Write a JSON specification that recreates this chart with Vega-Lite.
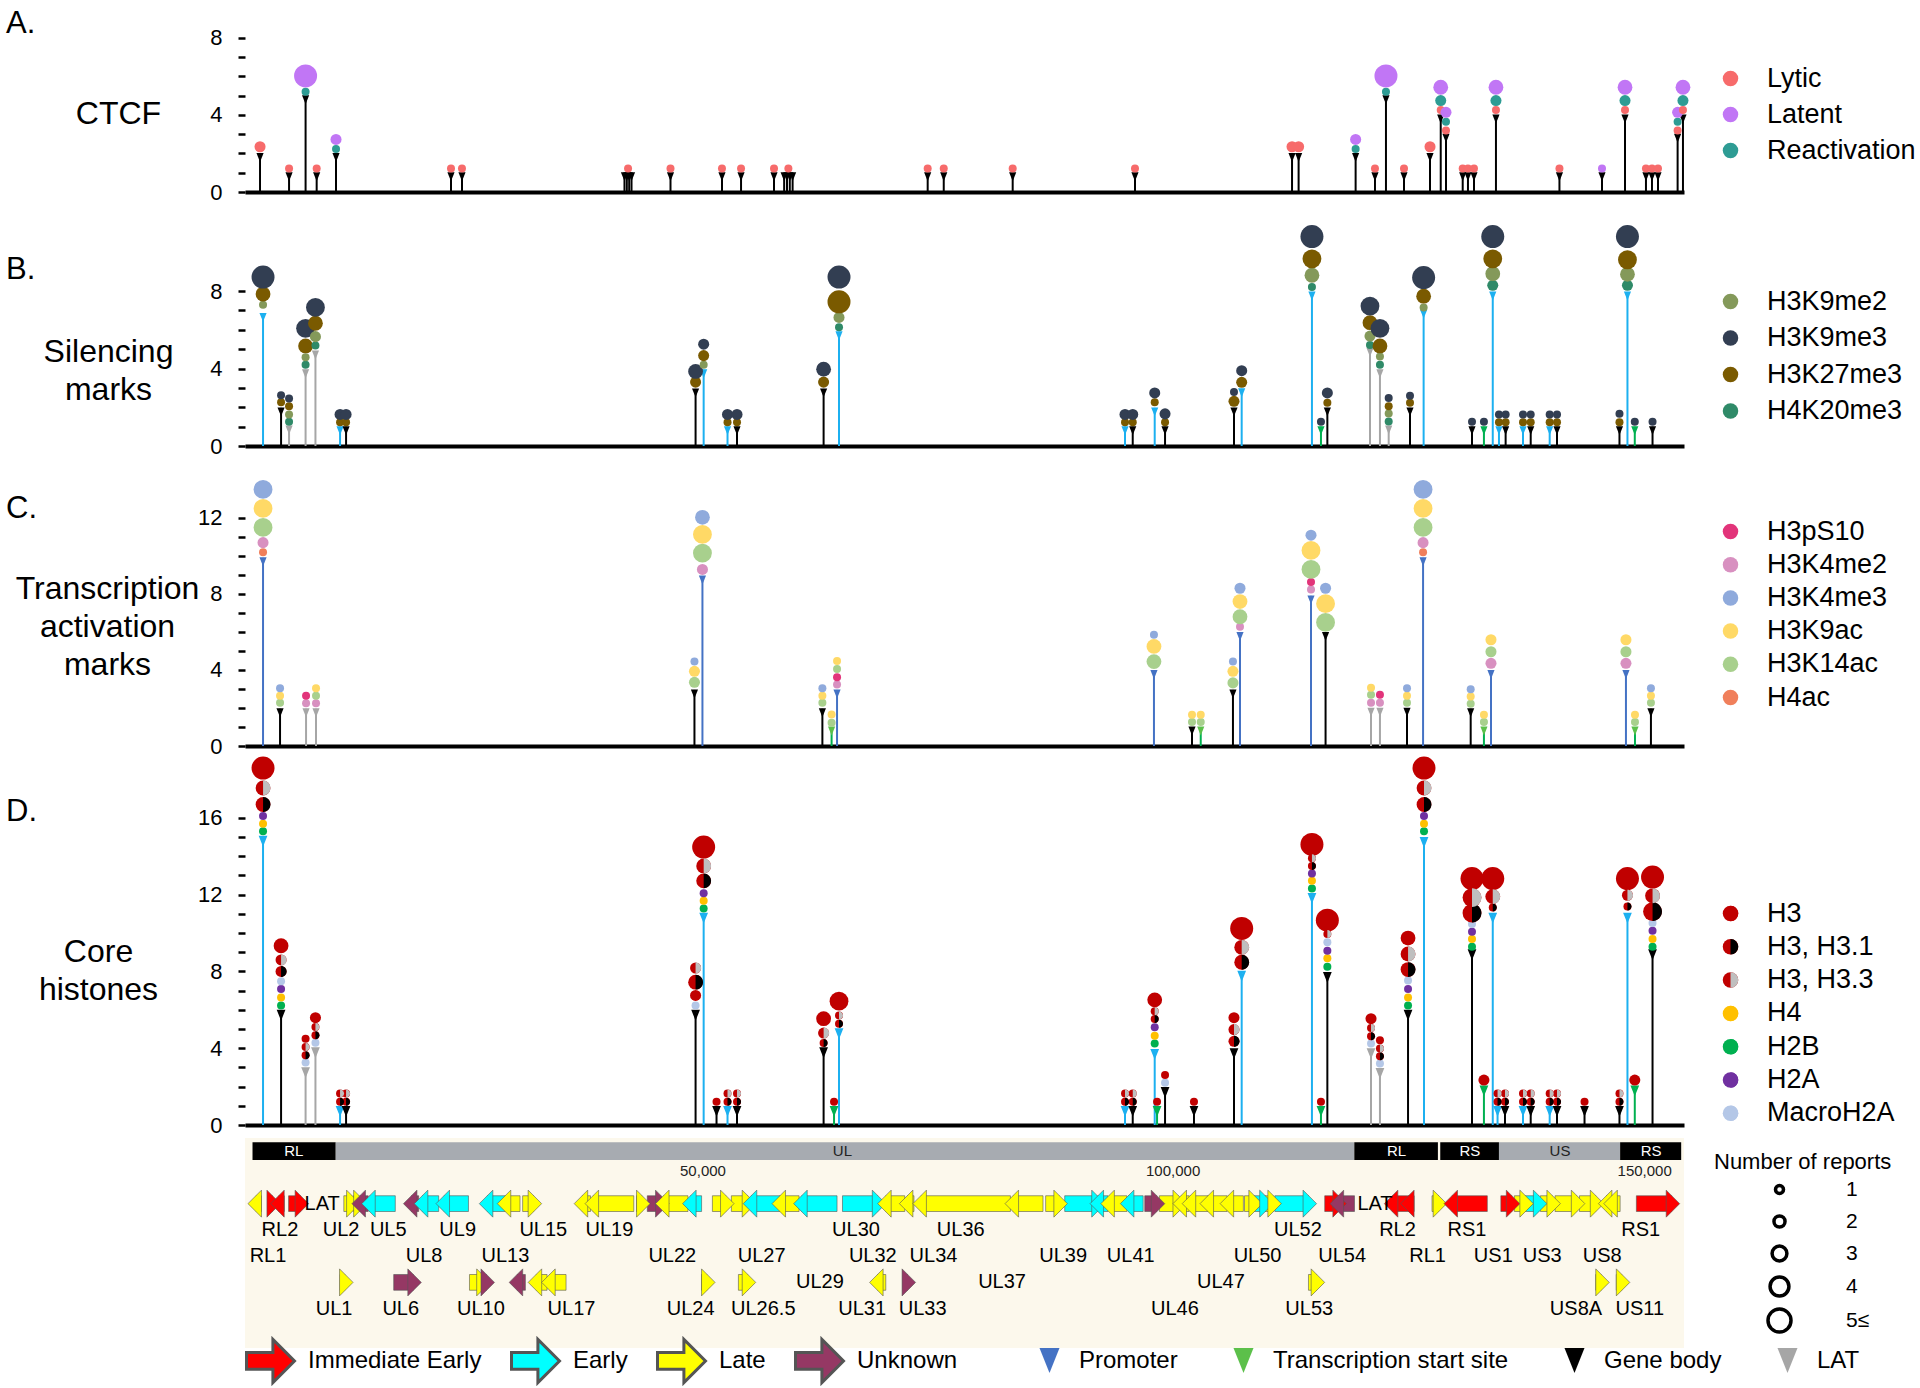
{
"$schema":"https://vega.github.io/schema/vega-lite/v6.json",
"background":"white",
"padding":{"left":6,"top":8,"right":5,"bottom":5},
"bounds":"flush",
"spacing":13,
"config":{"font":"Liberation Sans","view":{"stroke":null},"axis":{"grid":false},"legend":{"padding":0,"labelColor":"black","labelLimit":500,"titleColor":"black"}},
"resolve":{"scale":{"x":"independent","y":"independent","color":"independent","fill":"independent","stroke":"independent","size":"independent"},"legend":{"color":"independent","fill":"independent","stroke":"independent","size":"independent"}},
"datasets":{
"aStem":[{"x":0.8,"y":2,"t":"G"},{"x":3.89,"y":1,"t":"G"},{"x":5.65,"y":5,"t":"G"},{"x":6.83,"y":1,"t":"G"},{"x":8.89,"y":2,"t":"G"},{"x":21.13,"y":1,"t":"G"},{"x":22.3,"y":1,"t":"G"},{"x":39.6,"y":1,"t":"G"},{"x":39.85,"y":1,"t":"G"},{"x":40.1,"y":1,"t":"G"},{"x":40.35,"y":1,"t":"G"},{"x":44.5,"y":1,"t":"G"},{"x":49.98,"y":1,"t":"G"},{"x":52.01,"y":1,"t":"G"},{"x":55.52,"y":1,"t":"G"},{"x":56.6,"y":1,"t":"G"},{"x":56.9,"y":1,"t":"G"},{"x":57.2,"y":1,"t":"G"},{"x":57.5,"y":1,"t":"G"},{"x":71.88,"y":1,"t":"G"},{"x":73.59,"y":1,"t":"G"},{"x":80.93,"y":1,"t":"G"},{"x":93.95,"y":1,"t":"G"},{"x":110.67,"y":2,"t":"G"},{"x":111.37,"y":2,"t":"G"},{"x":117.44,"y":2,"t":"G"},{"x":119.5,"y":1,"t":"G"},{"x":120.67,"y":5,"t":"G"},{"x":122.59,"y":1,"t":"G"},{"x":125.36,"y":2,"t":"G"},{"x":126.5,"y":4,"t":"G"},{"x":127.06,"y":3,"t":"G"},{"x":128.84,"y":1,"t":"G"},{"x":129.4,"y":1,"t":"G"},{"x":130.04,"y":1,"t":"G"},{"x":132.38,"y":4,"t":"G"},{"x":139.14,"y":1,"t":"G"},{"x":143.67,"y":1,"t":"G"},{"x":146.12,"y":4,"t":"G"},{"x":148.35,"y":1,"t":"G"},{"x":148.99,"y":1,"t":"G"},{"x":149.63,"y":1,"t":"G"},{"x":151.72,"y":3,"t":"G"},{"x":152.29,"y":4,"t":"G"}],
"aDot":[{"x":0.8,"y":2.35,"m":"Lytic","n":2},{"x":3.89,"y":1.22,"m":"Lytic","n":1},{"x":5.65,"y":5.2,"m":"Reactivation","n":1},{"x":5.65,"y":6.03,"m":"Latent","n":5},{"x":6.83,"y":1.22,"m":"Lytic","n":1},{"x":8.89,"y":2.23,"m":"Reactivation","n":1},{"x":8.89,"y":2.73,"m":"Latent","n":2},{"x":21.13,"y":1.22,"m":"Lytic","n":1},{"x":22.3,"y":1.22,"m":"Lytic","n":1},{"x":39.98,"y":1.22,"m":"Lytic","n":1},{"x":44.5,"y":1.22,"m":"Lytic","n":1},{"x":49.98,"y":1.22,"m":"Lytic","n":1},{"x":52.01,"y":1.22,"m":"Lytic","n":1},{"x":55.52,"y":1.22,"m":"Lytic","n":1},{"x":57.05,"y":1.22,"m":"Lytic","n":1},{"x":71.88,"y":1.22,"m":"Lytic","n":1},{"x":73.59,"y":1.22,"m":"Lytic","n":1},{"x":80.93,"y":1.22,"m":"Lytic","n":1},{"x":93.95,"y":1.22,"m":"Lytic","n":1},{"x":110.67,"y":2.35,"m":"Lytic","n":2},{"x":111.37,"y":2.35,"m":"Lytic","n":2},{"x":117.44,"y":2.23,"m":"Reactivation","n":1},{"x":117.44,"y":2.73,"m":"Latent","n":2},{"x":119.5,"y":1.22,"m":"Lytic","n":1},{"x":120.67,"y":5.2,"m":"Reactivation","n":1},{"x":120.67,"y":6.03,"m":"Latent","n":5},{"x":122.59,"y":1.22,"m":"Lytic","n":1},{"x":125.36,"y":2.35,"m":"Lytic","n":2},{"x":126.5,"y":4.26,"m":"Lytic","n":1},{"x":126.5,"y":4.75,"m":"Reactivation","n":2},{"x":126.5,"y":5.44,"m":"Latent","n":3},{"x":127.06,"y":3.2,"m":"Lytic","n":1},{"x":127.06,"y":3.65,"m":"Reactivation","n":1},{"x":127.06,"y":4.14,"m":"Latent","n":2},{"x":128.84,"y":1.22,"m":"Lytic","n":1},{"x":129.4,"y":1.22,"m":"Lytic","n":1},{"x":130.04,"y":1.22,"m":"Lytic","n":1},{"x":132.38,"y":4.26,"m":"Lytic","n":1},{"x":132.38,"y":4.75,"m":"Reactivation","n":2},{"x":132.38,"y":5.44,"m":"Latent","n":3},{"x":139.14,"y":1.22,"m":"Lytic","n":1},{"x":143.67,"y":1.22,"m":"Latent","n":1},{"x":146.12,"y":4.26,"m":"Lytic","n":1},{"x":146.12,"y":4.75,"m":"Reactivation","n":2},{"x":146.12,"y":5.44,"m":"Latent","n":3},{"x":148.35,"y":1.22,"m":"Lytic","n":1},{"x":148.99,"y":1.22,"m":"Lytic","n":1},{"x":149.63,"y":1.22,"m":"Lytic","n":1},{"x":151.72,"y":3.2,"m":"Lytic","n":1},{"x":151.72,"y":3.65,"m":"Reactivation","n":1},{"x":151.72,"y":4.14,"m":"Latent","n":2},{"x":152.29,"y":4.26,"m":"Lytic","n":1},{"x":152.29,"y":4.75,"m":"Reactivation","n":2},{"x":152.29,"y":5.44,"m":"Latent","n":3}],
"bStem":[{"x":1.12,"y":6.85,"t":"P"},{"x":3.04,"y":1.97,"t":"G"},{"x":3.89,"y":1.03,"t":"L"},{"x":5.65,"y":3.94,"t":"L"},{"x":6.7,"y":4.91,"t":"L"},{"x":9.32,"y":1,"t":"P"},{"x":9.96,"y":1,"t":"G"},{"x":47.17,"y":2.95,"t":"G"},{"x":48.03,"y":3.94,"t":"P"},{"x":50.57,"y":1,"t":"P"},{"x":51.58,"y":1,"t":"G"},{"x":60.8,"y":2.95,"t":"G"},{"x":62.44,"y":5.9,"t":"P"},{"x":92.89,"y":1,"t":"P"},{"x":93.71,"y":1,"t":"G"},{"x":96.05,"y":1.97,"t":"P"},{"x":97.15,"y":1,"t":"G"},{"x":104.49,"y":1.97,"t":"G"},{"x":105.31,"y":2.96,"t":"P"},{"x":112.79,"y":7.96,"t":"P"},{"x":113.75,"y":1,"t":"T"},{"x":114.43,"y":1.97,"t":"G"},{"x":118.97,"y":5.05,"t":"L"},{"x":120.03,"y":3.94,"t":"L"},{"x":120.96,"y":1.03,"t":"L"},{"x":123.23,"y":1.97,"t":"G"},{"x":124.68,"y":7.02,"t":"P"},{"x":129.83,"y":1,"t":"G"},{"x":131.1,"y":1,"t":"T"},{"x":132.04,"y":7.96,"t":"P"},{"x":132.7,"y":1,"t":"P"},{"x":133.41,"y":1,"t":"G"},{"x":135.26,"y":1,"t":"P"},{"x":136.08,"y":1,"t":"G"},{"x":138.1,"y":1,"t":"P"},{"x":138.88,"y":1,"t":"G"},{"x":145.53,"y":1,"t":"G"},{"x":146.38,"y":7.96,"t":"P"},{"x":147.16,"y":1,"t":"T"},{"x":149.05,"y":1,"t":"G"}],
"bDot":[{"x":1.12,"y":7.3,"m":"H3K9me2","n":1},{"x":1.12,"y":7.85,"m":"H3K27me3","n":3},{"x":1.12,"y":8.73,"m":"H3K9me3","n":5},
{"x":3.04,"y":2.26,"m":"H3K27me3","n":1},{"x":3.04,"y":2.62,"m":"H3K9me3","n":1},
{"x":3.89,"y":1.25,"m":"H4K20me3","n":1},{"x":3.89,"y":1.63,"m":"H3K9me2","n":1},{"x":3.89,"y":2.05,"m":"H3K27me3","n":1},{"x":3.89,"y":2.45,"m":"H3K9me3","n":1},
{"x":5.65,"y":4.2,"m":"H4K20me3","n":1},{"x":5.65,"y":4.59,"m":"H3K9me2","n":1},{"x":5.65,"y":5.17,"m":"H3K27me3","n":3},{"x":5.65,"y":6.08,"m":"H3K9me3","n":4},
{"x":6.7,"y":5.19,"m":"H4K20me3","n":1},{"x":6.7,"y":5.65,"m":"H3K9me2","n":2},{"x":6.7,"y":6.34,"m":"H3K27me3","n":3},{"x":6.7,"y":7.16,"m":"H3K9me3","n":4},
{"x":9.32,"y":1.23,"m":"H3K27me3","n":1},{"x":9.32,"y":1.63,"m":"H3K9me3","n":2},{"x":9.96,"y":1.23,"m":"H3K27me3","n":1},{"x":9.96,"y":1.63,"m":"H3K9me3","n":2},
{"x":47.17,"y":3.3,"m":"H3K27me3","n":2},{"x":47.17,"y":3.85,"m":"H3K9me3","n":3},
{"x":48.03,"y":4.2,"m":"H3K9me2","n":1},{"x":48.03,"y":4.67,"m":"H3K27me3","n":2},{"x":48.03,"y":5.26,"m":"H3K9me3","n":2},
{"x":50.57,"y":1.23,"m":"H3K27me3","n":1},{"x":50.57,"y":1.63,"m":"H3K9me3","n":2},{"x":51.58,"y":1.23,"m":"H3K27me3","n":1},{"x":51.58,"y":1.63,"m":"H3K9me3","n":2},
{"x":60.8,"y":3.3,"m":"H3K27me3","n":2},{"x":60.8,"y":3.97,"m":"H3K9me3","n":3},
{"x":62.44,"y":6.13,"m":"H4K20me3","n":1},{"x":62.44,"y":6.64,"m":"H3K9me2","n":2},{"x":62.44,"y":7.45,"m":"H3K27me3","n":5},{"x":62.44,"y":8.73,"m":"H3K9me3","n":5},
{"x":92.89,"y":1.23,"m":"H3K27me3","n":1},{"x":92.89,"y":1.63,"m":"H3K9me3","n":2},{"x":93.71,"y":1.23,"m":"H3K27me3","n":1},{"x":93.71,"y":1.63,"m":"H3K9me3","n":2},
{"x":96.05,"y":2.26,"m":"H3K27me3","n":1},{"x":96.05,"y":2.74,"m":"H3K9me3","n":2},
{"x":97.15,"y":1.23,"m":"H3K27me3","n":1},{"x":97.15,"y":1.66,"m":"H3K9me3","n":2},
{"x":104.49,"y":2.31,"m":"H3K27me3","n":2},{"x":104.49,"y":2.79,"m":"H3K9me3","n":1},
{"x":105.31,"y":3.29,"m":"H3K27me3","n":2},{"x":105.31,"y":3.89,"m":"H3K9me3","n":2},
{"x":112.79,"y":8.22,"m":"H4K20me3","n":1},{"x":112.79,"y":8.82,"m":"H3K9me2","n":3},{"x":112.79,"y":9.67,"m":"H3K27me3","n":4},{"x":112.79,"y":10.82,"m":"H3K9me3","n":5},
{"x":113.75,"y":1.25,"m":"H3K9me3","n":1},
{"x":114.43,"y":2.23,"m":"H3K27me3","n":1},{"x":114.43,"y":2.74,"m":"H3K9me3","n":2},
{"x":118.97,"y":5.22,"m":"H4K20me3","n":1},{"x":118.97,"y":5.68,"m":"H3K9me2","n":2},{"x":118.97,"y":6.37,"m":"H3K27me3","n":3},{"x":118.97,"y":7.23,"m":"H3K9me3","n":4},
{"x":120.03,"y":4.2,"m":"H4K20me3","n":1},{"x":120.03,"y":4.62,"m":"H3K9me2","n":1},{"x":120.03,"y":5.17,"m":"H3K27me3","n":3},{"x":120.03,"y":6.08,"m":"H3K9me3","n":4},
{"x":120.96,"y":1.27,"m":"H4K20me3","n":1},{"x":120.96,"y":1.68,"m":"H3K9me2","n":1},{"x":120.96,"y":2.05,"m":"H3K27me3","n":1},{"x":120.96,"y":2.48,"m":"H3K9me3","n":1},
{"x":123.23,"y":2.23,"m":"H3K27me3","n":1},{"x":123.23,"y":2.6,"m":"H3K9me3","n":1},
{"x":124.68,"y":7.16,"m":"H3K9me2","n":1},{"x":124.68,"y":7.74,"m":"H3K27me3","n":3},{"x":124.68,"y":8.7,"m":"H3K9me3","n":5},
{"x":129.83,"y":1.25,"m":"H3K9me3","n":1},{"x":131.1,"y":1.25,"m":"H3K9me3","n":1},
{"x":132.04,"y":8.3,"m":"H4K20me3","n":2},{"x":132.04,"y":8.9,"m":"H3K9me2","n":3},{"x":132.04,"y":9.67,"m":"H3K27me3","n":4},{"x":132.04,"y":10.82,"m":"H3K9me3","n":5},
{"x":132.7,"y":1.23,"m":"H3K27me3","n":1},{"x":132.7,"y":1.63,"m":"H3K9me3","n":1},{"x":133.41,"y":1.23,"m":"H3K27me3","n":1},{"x":133.41,"y":1.63,"m":"H3K9me3","n":1},
{"x":135.26,"y":1.23,"m":"H3K27me3","n":1},{"x":135.26,"y":1.63,"m":"H3K9me3","n":1},{"x":136.08,"y":1.23,"m":"H3K27me3","n":1},{"x":136.08,"y":1.63,"m":"H3K9me3","n":1},
{"x":138.1,"y":1.23,"m":"H3K27me3","n":1},{"x":138.1,"y":1.63,"m":"H3K9me3","n":1},{"x":138.88,"y":1.23,"m":"H3K27me3","n":1},{"x":138.88,"y":1.63,"m":"H3K9me3","n":1},
{"x":145.53,"y":1.23,"m":"H3K27me3","n":1},{"x":145.53,"y":1.66,"m":"H3K9me3","n":1},
{"x":146.38,"y":8.3,"m":"H4K20me3","n":2},{"x":146.38,"y":8.87,"m":"H3K9me2","n":3},{"x":146.38,"y":9.62,"m":"H3K27me3","n":4},{"x":146.38,"y":10.82,"m":"H3K9me3","n":5},
{"x":147.16,"y":1.25,"m":"H3K9me3","n":1},{"x":149.05,"y":1.25,"m":"H3K9me3","n":1}],
"cStem":[{"x":1.12,"y":9.9,"t":"P"},{"x":2.93,"y":1.96,"t":"G"},{"x":5.7,"y":1.96,"t":"L"},{"x":6.76,"y":1.96,"t":"L"},{"x":47.05,"y":2.95,"t":"G"},{"x":47.9,"y":8.94,"t":"P"},{"x":60.67,"y":1.96,"t":"G"},{"x":61.65,"y":1,"t":"T"},{"x":62.23,"y":2.95,"t":"P"},{"x":95.97,"y":3.97,"t":"P"},{"x":100.02,"y":1,"t":"G"},{"x":100.95,"y":1,"t":"T"},{"x":104.38,"y":2.95,"t":"G"},{"x":105.13,"y":5.97,"t":"P"},{"x":112.69,"y":7.9,"t":"P"},{"x":114.24,"y":5.97,"t":"G"},{"x":119.08,"y":1.99,"t":"L"},{"x":120.03,"y":1.99,"t":"L"},{"x":122.91,"y":1.99,"t":"G"},{"x":124.62,"y":9.9,"t":"P"},{"x":129.69,"y":1.96,"t":"G"},{"x":131.1,"y":1,"t":"T"},{"x":131.85,"y":3.97,"t":"P"},{"x":146.22,"y":3.97,"t":"P"},{"x":147.18,"y":1,"t":"T"},{"x":148.88,"y":1.96,"t":"G"}],
"cDot":[{"x":1.12,"y":10.2,"m":"H4ac","n":1},{"x":1.12,"y":10.7,"m":"H3K4me2","n":2},{"x":1.12,"y":11.5,"m":"H3K14ac","n":4},{"x":1.12,"y":12.5,"m":"H3K9ac","n":4},{"x":1.12,"y":13.5,"m":"H3K4me3","n":4},
{"x":2.93,"y":2.27,"m":"H3K14ac","n":1},{"x":2.93,"y":2.65,"m":"H3K9ac","n":1},{"x":2.93,"y":3.04,"m":"H3K4me3","n":1},
{"x":5.7,"y":2.25,"m":"H3K4me2","n":1},{"x":5.7,"y":2.64,"m":"H3pS10","n":1},
{"x":6.76,"y":2.25,"m":"H3K4me2","n":1},{"x":6.76,"y":2.64,"m":"H3K14ac","n":1},{"x":6.76,"y":3.04,"m":"H3K9ac","n":1},
{"x":47.05,"y":3.35,"m":"H3K14ac","n":2},{"x":47.05,"y":3.93,"m":"H3K9ac","n":2},{"x":47.05,"y":4.45,"m":"H3K4me3","n":1},
{"x":47.9,"y":9.29,"m":"H3K4me2","n":2},{"x":47.9,"y":10.15,"m":"H3K14ac","n":4},{"x":47.9,"y":11.13,"m":"H3K9ac","n":4},{"x":47.9,"y":12.03,"m":"H3K4me3","n":3},
{"x":60.67,"y":2.27,"m":"H3K14ac","n":1},{"x":60.67,"y":2.65,"m":"H3K9ac","n":1},{"x":60.67,"y":3.04,"m":"H3K4me3","n":1},
{"x":61.65,"y":1.22,"m":"H3K14ac","n":1},{"x":61.65,"y":1.66,"m":"H3K9ac","n":1},
{"x":62.23,"y":3.23,"m":"H3K4me2","n":1},{"x":62.23,"y":3.62,"m":"H3pS10","n":1},{"x":62.23,"y":4.05,"m":"H3K14ac","n":1},{"x":62.23,"y":4.47,"m":"H3K9ac","n":1},
{"x":95.97,"y":4.44,"m":"H3K14ac","n":3},{"x":95.97,"y":5.24,"m":"H3K9ac","n":3},{"x":95.97,"y":5.85,"m":"H3K4me3","n":1},
{"x":100.02,"y":1.26,"m":"H3K14ac","n":1},{"x":100.02,"y":1.64,"m":"H3K9ac","n":1},
{"x":100.95,"y":1.26,"m":"H3K14ac","n":1},{"x":100.95,"y":1.64,"m":"H3K9ac","n":1},
{"x":104.38,"y":3.32,"m":"H3K14ac","n":2},{"x":104.38,"y":3.93,"m":"H3K9ac","n":2},{"x":104.38,"y":4.44,"m":"H3K4me3","n":1},
{"x":105.13,"y":6.27,"m":"H3K4me2","n":1},{"x":105.13,"y":6.8,"m":"H3K14ac","n":3},{"x":105.13,"y":7.6,"m":"H3K9ac","n":3},{"x":105.13,"y":8.3,"m":"H3K4me3","n":2},
{"x":112.69,"y":8.24,"m":"H3K4me2","n":1},{"x":112.69,"y":8.63,"m":"H3pS10","n":1},{"x":112.69,"y":9.29,"m":"H3K14ac","n":4},{"x":112.69,"y":10.29,"m":"H3K9ac","n":4},{"x":112.69,"y":11.09,"m":"H3K4me3","n":2},
{"x":114.24,"y":6.5,"m":"H3K14ac","n":4},{"x":114.24,"y":7.49,"m":"H3K9ac","n":4},{"x":114.24,"y":8.3,"m":"H3K4me3","n":2},
{"x":119.08,"y":2.27,"m":"H3K4me2","n":1},{"x":119.08,"y":2.69,"m":"H3K14ac","n":1},{"x":119.08,"y":3.07,"m":"H3K9ac","n":1},
{"x":120.03,"y":2.27,"m":"H3K4me2","n":1},{"x":120.03,"y":2.69,"m":"H3pS10","n":1},
{"x":122.91,"y":2.27,"m":"H3K14ac","n":1},{"x":122.91,"y":2.65,"m":"H3K9ac","n":1},{"x":122.91,"y":3.04,"m":"H3K4me3","n":1},
{"x":124.62,"y":10.2,"m":"H4ac","n":1},{"x":124.62,"y":10.7,"m":"H3K4me2","n":2},{"x":124.62,"y":11.5,"m":"H3K14ac","n":4},{"x":124.62,"y":12.5,"m":"H3K9ac","n":4},{"x":124.62,"y":13.5,"m":"H3K4me3","n":4},
{"x":129.69,"y":2.22,"m":"H3K14ac","n":1},{"x":129.69,"y":2.6,"m":"H3K9ac","n":1},{"x":129.69,"y":2.99,"m":"H3K4me3","n":1},
{"x":131.1,"y":1.26,"m":"H3K14ac","n":1},{"x":131.1,"y":1.64,"m":"H3K9ac","n":1},
{"x":131.85,"y":4.35,"m":"H3K4me2","n":2},{"x":131.85,"y":4.96,"m":"H3K14ac","n":2},{"x":131.85,"y":5.59,"m":"H3K9ac","n":2},
{"x":146.22,"y":4.35,"m":"H3K4me2","n":2},{"x":146.22,"y":4.96,"m":"H3K14ac","n":2},{"x":146.22,"y":5.59,"m":"H3K9ac","n":2},
{"x":147.18,"y":1.26,"m":"H3K14ac","n":1},{"x":147.18,"y":1.64,"m":"H3K9ac","n":1},
{"x":148.88,"y":2.27,"m":"H3K14ac","n":1},{"x":148.88,"y":2.65,"m":"H3K9ac","n":1},{"x":148.88,"y":3.04,"m":"H3K4me3","n":1}],
"dStem":[{"x":1.12,"y":15,"t":"P"},{"x":3.04,"y":5.93,"t":"G"},{"x":5.65,"y":2.94,"t":"L"},{"x":6.7,"y":3.98,"t":"L"},{"x":9.32,"y":0.92,"t":"P"},{"x":9.96,"y":0.92,"t":"G"},{"x":47.17,"y":5.93,"t":"G"},{"x":48.03,"y":10.99,"t":"P"},{"x":49.4,"y":0.92,"t":"G"},{"x":50.57,"y":0.92,"t":"P"},{"x":51.58,"y":0.92,"t":"G"},{"x":60.8,"y":3.98,"t":"G"},{"x":61.91,"y":0.92,"t":"T"},{"x":62.44,"y":4.97,"t":"P"},{"x":92.89,"y":0.92,"t":"P"},{"x":93.71,"y":0.92,"t":"G"},{"x":96.05,"y":3.89,"t":"P"},{"x":96.3,"y":0.92,"t":"T"},{"x":97.15,"y":1.9,"t":"G"},{"x":100.23,"y":0.92,"t":"G"},{"x":104.49,"y":3.93,"t":"G"},{"x":105.31,"y":7.96,"t":"P"},{"x":112.79,"y":12.02,"t":"P"},{"x":113.75,"y":0.92,"t":"T"},{"x":114.43,"y":7.9,"t":"G"},{"x":119.08,"y":3.93,"t":"L"},{"x":120.03,"y":2.89,"t":"L"},{"x":123.02,"y":5.93,"t":"G"},{"x":124.72,"y":14.93,"t":"P"},{"x":129.83,"y":9.08,"t":"G"},{"x":131.1,"y":1.99,"t":"T"},{"x":132.04,"y":10.99,"t":"P"},{"x":132.55,"y":0.92,"t":"P"},{"x":133.34,"y":0.92,"t":"G"},{"x":135.26,"y":0.92,"t":"P"},{"x":136.08,"y":0.92,"t":"G"},{"x":138.1,"y":0.92,"t":"P"},{"x":138.88,"y":0.92,"t":"G"},{"x":141.81,"y":0.92,"t":"G"},{"x":145.53,"y":0.92,"t":"G"},{"x":146.38,"y":10.99,"t":"P"},{"x":147.16,"y":1.99,"t":"T"},{"x":149.05,"y":9.08,"t":"G"}],
"dDot":[{"x":1.12,"y":15.3,"m":"H2B","n":1},{"x":1.12,"y":15.7,"m":"H4","n":1},{"x":1.12,"y":16.1,"m":"H2A","n":1},{"x":1.12,"y":16.7,"m":"H3, H3.1","n":3},{"x":1.12,"y":17.56,"m":"H3, H3.3","n":3},{"x":1.12,"y":18.6,"m":"H3","n":5},
{"x":3.04,"y":6.23,"m":"H2B","n":1},{"x":3.04,"y":6.64,"m":"H4","n":1},{"x":3.04,"y":7.08,"m":"H2A","n":1},{"x":3.04,"y":7.49,"m":"MacroH2A","n":1},{"x":3.04,"y":8.0,"m":"H3, H3.1","n":2},{"x":3.04,"y":8.6,"m":"H3, H3.3","n":2},{"x":3.04,"y":9.34,"m":"H3","n":3},
{"x":5.65,"y":3.25,"m":"MacroH2A","n":1},{"x":5.65,"y":3.63,"m":"H3, H3.1","n":1},{"x":5.65,"y":4.07,"m":"H3, H3.3","n":1},{"x":5.65,"y":4.5,"m":"H3","n":1},
{"x":6.7,"y":4.29,"m":"MacroH2A","n":1},{"x":6.7,"y":4.67,"m":"H3, H3.1","n":1},{"x":6.7,"y":5.1,"m":"H3, H3.3","n":1},{"x":6.7,"y":5.59,"m":"H3","n":2},
{"x":9.32,"y":1.21,"m":"H3, H3.1","n":1},{"x":9.32,"y":1.64,"m":"H3, H3.3","n":1},{"x":9.96,"y":1.21,"m":"H3, H3.1","n":1},{"x":9.96,"y":1.64,"m":"H3, H3.3","n":1},
{"x":47.17,"y":6.23,"m":"MacroH2A","n":1},{"x":47.17,"y":6.75,"m":"H3","n":2},{"x":47.17,"y":7.44,"m":"H3, H3.1","n":3},{"x":47.17,"y":8.18,"m":"H3, H3.3","n":2},
{"x":48.03,"y":11.28,"m":"H2B","n":1},{"x":48.03,"y":11.68,"m":"H4","n":1},{"x":48.03,"y":12.08,"m":"H2A","n":1},{"x":48.03,"y":12.72,"m":"H3, H3.1","n":3},{"x":48.03,"y":13.5,"m":"H3, H3.3","n":3},{"x":48.03,"y":14.48,"m":"H3","n":5},
{"x":49.4,"y":1.21,"m":"H3","n":1},
{"x":50.57,"y":1.21,"m":"H3, H3.1","n":1},{"x":50.57,"y":1.64,"m":"H3, H3.3","n":1},{"x":51.58,"y":1.21,"m":"H3, H3.1","n":1},{"x":51.58,"y":1.64,"m":"H3, H3.3","n":1},
{"x":60.8,"y":4.27,"m":"H3, H3.1","n":1},{"x":60.8,"y":4.79,"m":"H3, H3.3","n":2},{"x":60.8,"y":5.54,"m":"H3","n":3},
{"x":61.91,"y":1.21,"m":"H3","n":1},
{"x":62.44,"y":5.28,"m":"H3, H3.1","n":1},{"x":62.44,"y":5.71,"m":"H3, H3.3","n":1},{"x":62.44,"y":6.45,"m":"H3","n":4},
{"x":92.89,"y":1.21,"m":"H3, H3.1","n":1},{"x":92.89,"y":1.64,"m":"H3, H3.3","n":1},{"x":93.71,"y":1.21,"m":"H3, H3.1","n":1},{"x":93.71,"y":1.64,"m":"H3, H3.3","n":1},
{"x":96.05,"y":4.24,"m":"H2B","n":1},{"x":96.05,"y":4.65,"m":"H4","n":1},{"x":96.05,"y":5.09,"m":"H2A","n":1},{"x":96.05,"y":5.52,"m":"H3, H3.1","n":1},{"x":96.05,"y":5.93,"m":"H3, H3.3","n":1},{"x":96.05,"y":6.52,"m":"H3","n":3},
{"x":96.3,"y":1.21,"m":"H3","n":1},
{"x":97.15,"y":2.2,"m":"MacroH2A","n":1},{"x":97.15,"y":2.6,"m":"H3","n":1},
{"x":100.23,"y":1.21,"m":"H3","n":1},
{"x":104.49,"y":4.36,"m":"H3, H3.1","n":2},{"x":104.49,"y":4.97,"m":"H3, H3.3","n":2},{"x":104.49,"y":5.59,"m":"H3","n":2},
{"x":105.31,"y":8.48,"m":"H3, H3.1","n":3},{"x":105.31,"y":9.26,"m":"H3, H3.3","n":3},{"x":105.31,"y":10.24,"m":"H3","n":5},
{"x":112.79,"y":12.32,"m":"H2B","n":1},{"x":112.79,"y":12.72,"m":"H4","n":1},{"x":112.79,"y":13.1,"m":"H2A","n":1},{"x":112.79,"y":13.5,"m":"H3, H3.1","n":1},{"x":112.79,"y":13.9,"m":"H3, H3.3","n":1},{"x":112.79,"y":14.62,"m":"H3","n":5},
{"x":113.75,"y":1.21,"m":"H3","n":1},
{"x":114.43,"y":8.25,"m":"H2B","n":1},{"x":114.43,"y":8.69,"m":"H4","n":1},{"x":114.43,"y":9.08,"m":"H2A","n":1},{"x":114.43,"y":9.52,"m":"MacroH2A","n":1},{"x":114.43,"y":9.95,"m":"H3, H3.3","n":1},{"x":114.43,"y":10.67,"m":"H3","n":5},
{"x":119.08,"y":4.24,"m":"MacroH2A","n":1},{"x":119.08,"y":4.62,"m":"H3, H3.1","n":1},{"x":119.08,"y":5.05,"m":"H3, H3.3","n":1},{"x":119.08,"y":5.54,"m":"H3","n":2},
{"x":120.03,"y":3.2,"m":"MacroH2A","n":1},{"x":120.03,"y":3.58,"m":"H3, H3.1","n":1},{"x":120.03,"y":3.98,"m":"H3, H3.3","n":1},{"x":120.03,"y":4.41,"m":"H3","n":1},
{"x":123.02,"y":6.23,"m":"H2B","n":1},{"x":123.02,"y":6.64,"m":"H4","n":1},{"x":123.02,"y":7.08,"m":"H2A","n":1},{"x":123.02,"y":7.53,"m":"MacroH2A","n":1},{"x":123.02,"y":8.1,"m":"H3, H3.1","n":3},{"x":123.02,"y":8.91,"m":"H3, H3.3","n":3},{"x":123.02,"y":9.74,"m":"H3","n":3},
{"x":124.72,"y":15.3,"m":"H2B","n":1},{"x":124.72,"y":15.7,"m":"H4","n":1},{"x":124.72,"y":16.1,"m":"H2A","n":1},{"x":124.72,"y":16.7,"m":"H3, H3.1","n":3},{"x":124.72,"y":17.56,"m":"H3, H3.3","n":3},{"x":124.72,"y":18.6,"m":"H3","n":5},
{"x":129.83,"y":9.29,"m":"H2B","n":1},{"x":129.83,"y":9.69,"m":"H4","n":1},{"x":129.83,"y":10.07,"m":"H2A","n":1},{"x":129.83,"y":10.47,"m":"MacroH2A","n":1},{"x":129.83,"y":11.04,"m":"H3, H3.1","n":4},{"x":129.83,"y":11.85,"m":"H3, H3.3","n":4},{"x":129.83,"y":12.84,"m":"H3","n":5},
{"x":131.1,"y":2.34,"m":"H3","n":2},
{"x":132.04,"y":11.33,"m":"H3, H3.1","n":1},{"x":132.04,"y":11.9,"m":"H3, H3.3","n":3},{"x":132.04,"y":12.84,"m":"H3","n":5},
{"x":132.55,"y":1.21,"m":"H3, H3.1","n":1},{"x":132.55,"y":1.64,"m":"H3, H3.3","n":1},{"x":133.34,"y":1.21,"m":"H3, H3.1","n":1},{"x":133.34,"y":1.64,"m":"H3, H3.3","n":1},
{"x":135.26,"y":1.21,"m":"H3, H3.1","n":1},{"x":135.26,"y":1.64,"m":"H3, H3.3","n":1},{"x":136.08,"y":1.21,"m":"H3, H3.1","n":1},{"x":136.08,"y":1.64,"m":"H3, H3.3","n":1},
{"x":138.1,"y":1.21,"m":"H3, H3.1","n":1},{"x":138.1,"y":1.64,"m":"H3, H3.3","n":1},{"x":138.88,"y":1.21,"m":"H3, H3.1","n":1},{"x":138.88,"y":1.64,"m":"H3, H3.3","n":1},
{"x":141.81,"y":1.21,"m":"H3","n":1},
{"x":145.53,"y":1.21,"m":"H3, H3.1","n":1},{"x":145.53,"y":1.64,"m":"H3, H3.3","n":1},
{"x":146.38,"y":11.38,"m":"H3, H3.1","n":1},{"x":146.38,"y":11.97,"m":"H3, H3.3","n":2},{"x":146.38,"y":12.84,"m":"H3","n":5},
{"x":147.16,"y":2.34,"m":"H3","n":2},
{"x":149.05,"y":9.29,"m":"H2B","n":1},{"x":149.05,"y":9.69,"m":"H4","n":1},{"x":149.05,"y":10.12,"m":"H2A","n":1},{"x":149.05,"y":10.52,"m":"MacroH2A","n":1},{"x":149.05,"y":11.12,"m":"H3, H3.1","n":4},{"x":149.05,"y":11.94,"m":"H3, H3.3","n":3},{"x":149.05,"y":12.92,"m":"H3","n":5}],
"regions":[{"s":0,"e":8.86,"c":4.4,"name":"RL","k":"rep","r":"r"},{"s":8.86,"e":117.3,"c":62.8,"name":"UL","k":"uni","r":"r"},{"s":117.3,"e":126.2,"c":121.8,"name":"RL","k":"rep","r":"r"},{"s":126.45,"e":132.7,"c":129.6,"name":"RS","k":"rep","r":"r"},{"s":132.7,"e":145.6,"c":139.2,"name":"US","k":"uni","r":"r"},{"s":145.6,"e":152.1,"c":148.9,"name":"RS","k":"rep","r":"r"}],
"ticks":[{"x":50.4,"lab":"50,000","r":"t"},{"x":100.9,"lab":"100,000","r":"t"},{"x":151.1,"lab":"150,000","r":"t"}],
"genes":[{"s":0.38,"e":0.95,"c":"L","d":"-","r":"g1"},{"s":1.93,"e":2.11,"c":"IE","d":"+","r":"g1"},{"s":2.8,"e":3.38,"c":"IE","d":"-","r":"g1"},{"s":3.84,"e":5.11,"c":"IE","d":"+","r":"g1"},{"s":9.72,"e":10.59,"c":"L","d":"+","r":"g1"},{"s":10.76,"e":11.34,"c":"L","d":"+","r":"g1"},{"s":11.45,"e":12.32,"c":"U","d":"-","r":"g1"},{"s":12.49,"e":15.2,"c":"E","d":"-","r":"g1"},{"s":16.93,"e":17.69,"c":"U","d":"-","r":"g1"},{"s":18.09,"e":19.82,"c":"E","d":"-","r":"g1"},{"s":20.4,"e":22.99,"c":"E","d":"-","r":"g1"},{"s":25.01,"e":26.92,"c":"E","d":"-","r":"g1"},{"s":26.92,"e":28.48,"c":"L","d":"-","r":"g1"},{"s":28.76,"e":29.92,"c":"L","d":"+","r":"g1"},{"s":35.11,"e":35.98,"c":"L","d":"-","r":"g1"},{"s":36.27,"e":40.59,"c":"L","d":"-","r":"g1"},{"s":40.88,"e":41.46,"c":"L","d":"+","r":"g1"},{"s":42.03,"e":43.48,"c":"U","d":"+","r":"g1"},{"s":43.77,"e":46.36,"c":"L","d":"-","r":"g1"},{"s":46.65,"e":47.81,"c":"E","d":"-","r":"g1"},{"s":48.96,"e":50.4,"c":"L","d":"+","r":"g1"},{"s":50.98,"e":52.71,"c":"L","d":"+","r":"g1"},{"s":53.11,"e":56.17,"c":"E","d":"-","r":"g1"},{"s":56.17,"e":58.19,"c":"L","d":"-","r":"g1"},{"s":58.48,"e":62.23,"c":"E","d":"-","r":"g1"},{"s":62.81,"e":66.56,"c":"E","d":"+","r":"g1"},{"s":67.42,"e":69.44,"c":"L","d":"-","r":"g1"},{"s":69.73,"e":70.42,"c":"L","d":"-","r":"g1"},{"s":71.17,"e":80.69,"c":"L","d":"-","r":"g1"},{"s":80.98,"e":84.16,"c":"L","d":"-","r":"g1"},{"s":84.44,"e":85.89,"c":"L","d":"+","r":"g1"},{"s":86.47,"e":89.92,"c":"E","d":"+","r":"g1"},{"s":90.03,"e":91.07,"c":"E","d":"-","r":"g1"},{"s":91.18,"e":93.09,"c":"L","d":"-","r":"g1"},{"s":93.26,"e":94.82,"c":"E","d":"-","r":"g1"},{"s":94.99,"e":96.26,"c":"U","d":"+","r":"g1"},{"s":96.55,"e":98.57,"c":"L","d":"+","r":"g1"},{"s":98.86,"e":99.72,"c":"L","d":"-","r":"g1"},{"s":99.84,"e":101.74,"c":"L","d":"-","r":"g1"},{"s":101.74,"e":103.76,"c":"L","d":"-","r":"g1"},{"s":103.88,"e":105.49,"c":"L","d":"-","r":"g1"},{"s":105.61,"e":106.65,"c":"L","d":"+","r":"g1"},{"s":106.65,"e":107.8,"c":"E","d":"+","r":"g1"},{"s":107.8,"e":108.67,"c":"L","d":"+","r":"g1"},{"s":108.84,"e":112.42,"c":"E","d":"+","r":"g1"},{"s":114.15,"e":115.59,"c":"IE","d":"+","r":"g1"},{"s":115.59,"e":117.32,"c":"U","d":"-","r":"g1"},{"s":121.36,"e":123.09,"c":"IE","d":"-","r":"g1"},{"s":123.09,"e":123.67,"c":"IE","d":"-","r":"g1"},{"s":125.57,"e":126.27,"c":"L","d":"+","r":"g1"},{"s":127.71,"e":131.46,"c":"IE","d":"-","r":"g1"},{"s":132.9,"e":134.06,"c":"IE","d":"+","r":"g1"},{"s":134.34,"e":135.5,"c":"L","d":"+","r":"g1"},{"s":135.5,"e":136.94,"c":"E","d":"+","r":"g1"},{"s":137.11,"e":138.38,"c":"L","d":"+","r":"g1"},{"s":138.67,"e":140.98,"c":"L","d":"+","r":"g1"},{"s":141.27,"e":143.0,"c":"L","d":"+","r":"g1"},{"s":144.15,"e":144.73,"c":"L","d":"-","r":"g1"},{"s":144.73,"e":145.6,"c":"L","d":"-","r":"g1"},{"s":147.33,"e":151.08,"c":"IE","d":"+","r":"g1"},
{"s":9.32,"e":9.84,"c":"L","d":"+","r":"l3"},{"s":15.03,"e":17.11,"c":"U","d":"+","r":"l3"},{"s":23.1,"e":24.44,"c":"L","d":"+","r":"l3"},{"s":24.61,"e":24.9,"c":"U","d":"+","r":"l3"},{"s":28.19,"e":29.05,"c":"U","d":"-","r":"l3"},{"s":30.21,"e":31.36,"c":"L","d":"-","r":"l3"},{"s":31.65,"e":33.38,"c":"L","d":"-","r":"l3"},{"s":47.8,"e":48.38,"c":"L","d":"+","r":"l3"},{"s":51.73,"e":52.71,"c":"L","d":"+","r":"l3"},{"s":66.56,"e":67.42,"c":"L","d":"-","r":"l3"},{"s":69.27,"e":69.73,"c":"U","d":"+","r":"l3"},{"s":112.42,"e":113.28,"c":"L","d":"+","r":"l3"},{"s":143.0,"e":143.58,"c":"L","d":"+","r":"l3"},{"s":145.19,"e":145.77,"c":"L","d":"+","r":"l3"}],
"labels":[{"x":7.41,"lab":"LAT","r":"g1"},{"x":119.5,"lab":"LAT","r":"g1"},
{"x":2.92,"lab":"RL2","r":"l1"},{"x":9.43,"lab":"UL2","r":"l1"},{"x":14.45,"lab":"UL5","r":"l1"},{"x":21.84,"lab":"UL9","r":"l1"},{"x":30.96,"lab":"UL15","r":"l1"},{"x":38.0,"lab":"UL19","r":"l1"},{"x":64.25,"lab":"UL30","r":"l1"},{"x":75.4,"lab":"UL36","r":"l1"},{"x":111.3,"lab":"UL52","r":"l1"},{"x":121.9,"lab":"RL2","r":"l1"},{"x":129.3,"lab":"RS1","r":"l1"},{"x":147.8,"lab":"RS1","r":"l1"},
{"x":1.65,"lab":"RL1","r":"l2"},{"x":18.26,"lab":"UL8","r":"l2"},{"x":26.92,"lab":"UL13","r":"l2"},{"x":44.69,"lab":"UL22","r":"l2"},{"x":54.21,"lab":"UL27","r":"l2"},{"x":66.04,"lab":"UL32","r":"l2"},{"x":72.5,"lab":"UL34","r":"l2"},{"x":86.3,"lab":"UL39","r":"l2"},{"x":93.5,"lab":"UL41","r":"l2"},{"x":107.0,"lab":"UL50","r":"l2"},{"x":116.0,"lab":"UL54","r":"l2"},{"x":125.1,"lab":"RL1","r":"l2"},{"x":132.1,"lab":"US1","r":"l2"},{"x":137.3,"lab":"US3","r":"l2"},{"x":143.7,"lab":"US8","r":"l2"},
{"x":60.4,"lab":"UL29","r":"l3"},{"x":79.8,"lab":"UL37","r":"l3"},{"x":103.1,"lab":"UL47","r":"l3"},
{"x":8.68,"lab":"UL1","r":"l4"},{"x":15.78,"lab":"UL6","r":"l4"},{"x":24.32,"lab":"UL10","r":"l4"},{"x":33.96,"lab":"UL17","r":"l4"},{"x":46.65,"lab":"UL24","r":"l4"},{"x":54.38,"lab":"UL26.5","r":"l4"},{"x":64.9,"lab":"UL31","r":"l4"},{"x":71.35,"lab":"UL33","r":"l4"},{"x":98.2,"lab":"UL46","r":"l4"},{"x":112.5,"lab":"UL53","r":"l4"},{"x":140.9,"lab":"US8A","r":"l4"},{"x":147.7,"lab":"US11","r":"l4"}]
},
"vconcat":[
{"width":1439,"height":181,
 "title":{"text":"A.","anchor":"start","frame":"group","dx":-239,"offset":-53,"fontSize":31,"fontWeight":"normal","baseline":"alphabetic","color":"black"},
 "encoding":{
  "x":{"field":"x","type":"quantitative","scale":{"domain":[-0.8,152.4],"nice":false,"zero":false},"axis":{"labels":false,"ticks":false,"title":null,"domainWidth":4,"domainColor":"black"}},
  "y":{"field":"y","type":"quantitative","scale":{"domain":[0,9.4],"nice":false,"zero":false},"axis":{"values":[0,1,2,3,4,5,6,7,8],"labelExpr":"datum.value % 4 == 0 ? datum.label : ''","domain":false,"tickSize":7,"tickWidth":2.5,"tickColor":"black","labelFontSize":22,"labelColor":"black","labelPadding":16,"title":"CTCF","titleAngle":0,"titleAlign":"center","titleBaseline":"middle","titleX":-127,"titleY":102,"titleFontSize":32,"titleFontWeight":"normal","titleColor":"black","titleLineHeight":38}}},
 "layer":[
  {"data":{"values":[{}]},"mark":{"type":"rule","color":"black","strokeWidth":3},"encoding":{"x":{"datum":-0.8},"y":{"datum":0},"y2":{"datum":8}}},
  {"data":{"name":"aStem"},"mark":{"type":"rule","strokeWidth":2},"encoding":{"y2":{"datum":0},"stroke":{"field":"t","type":"nominal","scale":{"domain":["G"],"range":["black"]},"legend":null}}},
  {"data":{"name":"aStem"},"mark":{"type":"point","filled":true,"opacity":1,"size":80,"yOffset":4,"shape":"M-0.8,-1L0.8,-1L0,1Z"},"encoding":{"fill":{"field":"t","type":"nominal","scale":{"domain":["G"],"range":["black"]},"legend":null}}},
  {"data":{"name":"aDot"},"mark":{"type":"point","filled":true,"opacity":1,"shape":"circle","strokeWidth":0},"encoding":{"color":{"field":"m","type":"nominal","scale":{"domain":["Lytic","Latent","Reactivation"],"range":["#f76b6b","#c176f5","#2e9c94"]},"legend":{"orient":"none","legendX":1472,"legendY":54,"title":null,"symbolType":"circle","symbolSize":240,"labelFontSize":27,"rowPadding":8,"labelOffset":23}},"size":{"field":"n","type":"quantitative","scale":{"type":"pow","exponent":2,"domain":[1,5],"range":[64,529]},"legend":null}}}
 ]},
{"width":1439,"height":241,
 "title":{"text":"B.","anchor":"start","frame":"group","dx":-239,"offset":-105,"fontSize":31,"fontWeight":"normal","baseline":"alphabetic","color":"black"},
 "encoding":{
  "x":{"field":"x","type":"quantitative","scale":{"domain":[-0.8,152.4],"nice":false,"zero":false},"axis":{"labels":false,"ticks":false,"title":null,"domainWidth":4,"domainColor":"black"}},
  "y":{"field":"y","type":"quantitative","scale":{"domain":[0,12.45],"nice":false,"zero":false},"axis":{"values":[0,1,2,3,4,5,6,7,8],"labelExpr":"datum.value % 4 == 0 ? datum.label : ''","domain":false,"tickSize":7,"tickWidth":2.5,"tickColor":"black","labelFontSize":22,"labelColor":"black","labelPadding":16,"title":["Silencing","marks"],"titleAngle":0,"titleAlign":"center","titleBaseline":"middle","titleX":-137,"titleY":146,"titleFontSize":32,"titleFontWeight":"normal","titleColor":"black","titleLineHeight":38}}},
 "layer":[
  {"data":{"values":[{}]},"mark":{"type":"rule","color":"black","strokeWidth":3},"encoding":{"x":{"datum":-0.8},"y":{"datum":0},"y2":{"datum":8}}},
  {"data":{"name":"bStem"},"mark":{"type":"rule","strokeWidth":2},"encoding":{"y2":{"datum":0},"stroke":{"field":"t","type":"nominal","scale":{"domain":["P","T","G","L"],"range":["#1cb0f0","#00b050","#000000","#a6a6a6"]},"legend":null}}},
  {"data":{"name":"bStem"},"mark":{"type":"point","filled":true,"opacity":1,"size":80,"yOffset":4,"shape":"M-0.8,-1L0.8,-1L0,1Z"},"encoding":{"fill":{"field":"t","type":"nominal","scale":{"domain":["P","T","G","L"],"range":["#1cb0f0","#00b050","#000000","#a6a6a6"]},"legend":null}}},
  {"data":{"name":"bDot"},"mark":{"type":"point","filled":true,"opacity":1,"shape":"circle","strokeWidth":0},"encoding":{"color":{"field":"m","type":"nominal","scale":{"domain":["H3K9me2","H3K9me3","H3K27me3","H4K20me3"],"range":["#84995a","#323e52","#7a5a00","#2f8a68"]},"legend":{"orient":"none","legendX":1472,"legendY":83,"title":null,"symbolType":"circle","symbolSize":240,"labelFontSize":27,"rowPadding":8.5,"labelOffset":23}},"size":{"field":"n","type":"quantitative","scale":{"type":"pow","exponent":2,"domain":[1,5],"range":[64,529]},"legend":null}}}
 ]},
{"width":1439,"height":287,
 "title":{"text":"C.","anchor":"start","frame":"group","dx":-239,"offset":-90,"fontSize":31,"fontWeight":"normal","baseline":"alphabetic","color":"black"},
 "encoding":{
  "x":{"field":"x","type":"quantitative","scale":{"domain":[-0.8,152.4],"nice":false,"zero":false},"axis":{"labels":false,"ticks":false,"title":null,"domainWidth":4,"domainColor":"black"}},
  "y":{"field":"y","type":"quantitative","scale":{"domain":[0,15.1],"nice":false,"zero":false},"axis":{"values":[0,1,2,3,4,5,6,7,8,9,10,11,12],"labelExpr":"datum.value % 4 == 0 ? datum.label : ''","domain":false,"tickSize":7,"tickWidth":2.5,"tickColor":"black","labelFontSize":22,"labelColor":"black","labelPadding":16,"title":["Transcription","activation","marks"],"titleAngle":0,"titleAlign":"center","titleBaseline":"middle","titleX":-138,"titleY":129,"titleFontSize":32,"titleFontWeight":"normal","titleColor":"black","titleLineHeight":38}}},
 "layer":[
  {"data":{"values":[{}]},"mark":{"type":"rule","color":"black","strokeWidth":3},"encoding":{"x":{"datum":-0.8},"y":{"datum":0},"y2":{"datum":12}}},
  {"data":{"name":"cStem"},"mark":{"type":"rule","strokeWidth":2},"encoding":{"y2":{"datum":0},"stroke":{"field":"t","type":"nominal","scale":{"domain":["P","T","G","L","zz"],"range":["#4472c4","#00b050","#000000","#a6a6a6","transparent"]},"legend":null}}},
  {"data":{"name":"cStem"},"mark":{"type":"point","filled":true,"opacity":1,"size":80,"yOffset":4,"shape":"M-0.8,-1L0.8,-1L0,1Z"},"encoding":{"fill":{"field":"t","type":"nominal","scale":{"domain":["P","T","G","L"],"range":["#4472c4","#5cc04a","#000000","#a6a6a6"]},"legend":{"orient":"none","legendX":791,"legendY":888,"direction":"horizontal","title":null,"symbolType":"M-0.8,-1L0.8,-1L0,1Z","symbolSize":625,"labelFontSize":24,"labelOffset":16,"columnPadding":52,"labelExpr":"datum.label=='P'?'Promoter':datum.label=='T'?'Transcription start site':datum.label=='G'?'Gene body':'LAT'"}}}},
  {"data":{"name":"cDot"},"mark":{"type":"point","filled":true,"opacity":1,"shape":"circle","strokeWidth":0},"encoding":{"color":{"field":"m","type":"nominal","scale":{"domain":["H3pS10","H3K4me2","H3K4me3","H3K9ac","H3K14ac","H4ac"],"range":["#e2347a","#d890c0","#8faadc","#ffd966","#a8d08d","#f07f5b"]},"legend":{"orient":"none","legendX":1472,"legendY":59,"title":null,"symbolType":"circle","symbolSize":240,"labelFontSize":27,"rowPadding":5.2,"labelOffset":23}},"size":{"field":"n","type":"quantitative","scale":{"type":"pow","exponent":2,"domain":[1,5],"range":[64,529]},"legend":null}}}
 ]},
{"width":1439,"height":366,
 "title":{"text":"D.","anchor":"start","frame":"group","dx":-239,"offset":-95,"fontSize":31,"fontWeight":"normal","baseline":"alphabetic","color":"black"},
 "encoding":{
  "x":{"field":"x","type":"quantitative","scale":{"domain":[-0.8,152.4],"nice":false,"zero":false},"axis":{"labels":false,"ticks":false,"title":null,"domainWidth":4,"domainColor":"black"}},
  "y":{"field":"y","type":"quantitative","scale":{"domain":[0,19.07],"nice":false,"zero":false},"axis":{"values":[0,1,2,3,4,5,6,7,8,9,10,11,12,13,14,15,16],"labelExpr":"datum.value % 4 == 0 ? datum.label : ''","domain":false,"tickSize":7,"tickWidth":2.5,"tickColor":"black","labelFontSize":22,"labelColor":"black","labelPadding":16,"title":["Core","histones"],"titleAngle":0,"titleAlign":"center","titleBaseline":"middle","titleX":-147,"titleY":192,"titleFontSize":32,"titleFontWeight":"normal","titleColor":"black","titleLineHeight":38}}},
 "layer":[
  {"data":{"values":[{}]},"mark":{"type":"rule","color":"black","strokeWidth":3},"encoding":{"x":{"datum":-0.8},"y":{"datum":0},"y2":{"datum":16}}},
  {"data":{"name":"dStem"},"mark":{"type":"rule","strokeWidth":2},"encoding":{"y2":{"datum":0},"stroke":{"field":"t","type":"nominal","scale":{"domain":["P","T","G","L"],"range":["#1cb0f0","#00b050","#000000","#a6a6a6"]},"legend":null}}},
  {"data":{"name":"dStem"},"mark":{"type":"point","filled":false,"opacity":1,"size":40,"strokeWidth":2.5,"yOffset":3,"shape":"M-0.8,-1L0.8,-1L0,1Z"},"encoding":{"stroke":{"field":"t","type":"nominal","legend":null}}},
  {"data":{"name":"dDot"},"mark":{"type":"point","filled":true,"opacity":1,"shape":"circle","strokeWidth":0},"encoding":{"color":{"field":"m","type":"nominal","scale":{"domain":["H3","H3, H3.1","H3, H3.3","H4","H2B","H2A","MacroH2A"],"range":["#c00000","#c00000","#c00000","#ffc000","#00b050","#7030a0","#b4c7e7"]},"legend":{"orient":"none","legendX":1472,"legendY":141,"title":null,"symbolType":"circle","symbolSize":240,"labelFontSize":27,"rowPadding":5.3,"labelOffset":23}},"size":{"field":"n","type":"quantitative","scale":{"type":"pow","exponent":2,"domain":[1,5],"range":[64,529]},"legend":{"orient":"none","legendX":1469,"legendY":393,"title":"Number of reports","titleFontSize":22,"titleFontWeight":"normal","titlePadding":5,"values":[1,2,3,4,5],"labelExpr":"datum.value == 5 ? '5≤' : datum.label","labelFontSize":21,"symbolType":"circle","symbolFillColor":"white","symbolStrokeColor":"black","symbolStrokeWidth":3.5,"symbolOffset":52,"labelOffset":53,"rowPadding":-10,"gridAlign":"all"}}}},
  {"data":{"name":"dDot"},"transform":[{"filter":"datum.m == 'H3, H3.1' || datum.m == 'H3, H3.3'"}],"mark":{"type":"point","filled":true,"opacity":1,"shape":"M0,-1A1,1,0,0,1,0,1Z","strokeWidth":0},"encoding":{"fill":{"field":"m","type":"nominal","scale":{"domain":["H3","H3, H3.1","H3, H3.3","H4","H2B","H2A","MacroH2A","zz"],"range":["#c00000","#000000","#bfbfbf","#ffc000","#00b050","#7030a0","#b4c7e7","transparent"]},"legend":{"orient":"none","legendX":1472,"legendY":141,"title":null,"symbolType":"M0,-1A1,1,0,0,1,0,1Z","symbolSize":240,"labelFontSize":27,"rowPadding":5.3,"labelOffset":23,"labelExpr":"''"}},"size":{"field":"n","type":"quantitative"}}}
 ]},
{"width":1439,"height":210,
 "view":{"fill":"#fcf8ec","stroke":null},
 "encoding":{
  "x":{"field":"s","type":"quantitative","scale":{"domain":[-0.8,152.4],"nice":false,"zero":false},"axis":null},
  "y":{"field":"r","type":"nominal","scale":{"type":"band","domain":["r","t","g1","l1","l2","l3","l4","z"],"paddingInner":0,"paddingOuter":0},"axis":null}},
 "layer":[
  {"data":{"name":"regions"},"mark":{"type":"rect","height":{"band":0.68}},"encoding":{"x2":{"field":"e"},"fill":{"field":"k","type":"nominal","scale":{"domain":["rep","uni"],"range":["#000000","#a7abb1"]},"legend":null}}},
  {"data":{"name":"regions"},"mark":{"type":"text","fontSize":15,"baseline":"middle","align":"center"},"encoding":{"x":{"field":"c","type":"quantitative","scale":{"domain":[-0.8,152.4],"nice":false,"zero":false}},"text":{"field":"name"},"color":{"condition":{"test":"datum.k == 'rep'","value":"white"},"value":"#222222"}}},
  {"data":{"name":"ticks"},"mark":{"type":"text","fontSize":15,"baseline":"middle","align":"right","dy":-6,"color":"#222222"},"encoding":{"x":{"field":"x","type":"quantitative","scale":{"domain":[-0.8,152.4],"nice":false,"zero":false}},"text":{"field":"lab"}}},
  {"data":{"name":"genes"},"mark":{"type":"rect","height":{"band":0.6},"stroke":"#555555","strokeWidth":0.6},"encoding":{"x2":{"field":"e"},"color":{"field":"c","type":"nominal","scale":{"domain":["IE","E","L","U"],"range":["#ff0000","#00ffff","#ffff00","#953864"]},"legend":{"orient":"none","legendX":0,"legendY":197,"direction":"horizontal","title":null,"symbolType":"M-1,-0.35L0.1,-0.35L0.1,-0.9L1,0L0.1,0.9L0.1,0.35L-1,0.35Z","symbolSize":2304,"symbolStrokeColor":"black","symbolStrokeWidth":3,"labelFontSize":24,"labelOffset":12,"columnPadding":23,"labelExpr":"datum.label=='IE'?'Immediate Early':datum.label=='E'?'Early':datum.label=='L'?'Late':'Unknown'"}}}},
  {"data":{"name":"genes"},"transform":[{"filter":"datum.d == '+'"}],"mark":{"type":"point","filled":true,"opacity":1,"size":729,"shape":"M-0.4,-1L0.6,0L-0.4,1Z","stroke":"#555555","strokeWidth":0.6},"encoding":{"x":{"field":"e","type":"quantitative","scale":{"domain":[-0.8,152.4],"nice":false,"zero":false}},"color":{"field":"c","type":"nominal"}}},
  {"data":{"name":"genes"},"transform":[{"filter":"datum.d == '-'"}],"mark":{"type":"point","filled":true,"opacity":1,"size":729,"shape":"M0.4,-1L-0.6,0L0.4,1Z","stroke":"#555555","strokeWidth":0.6},"encoding":{"color":{"field":"c","type":"nominal"}}},
  {"data":{"name":"labels"},"mark":{"type":"text","fontSize":20,"baseline":"middle","align":"center","color":"black"},"encoding":{"x":{"field":"x","type":"quantitative","scale":{"domain":[-0.8,152.4],"nice":false,"zero":false}},"text":{"field":"lab"}}}
 ]}
]
}
